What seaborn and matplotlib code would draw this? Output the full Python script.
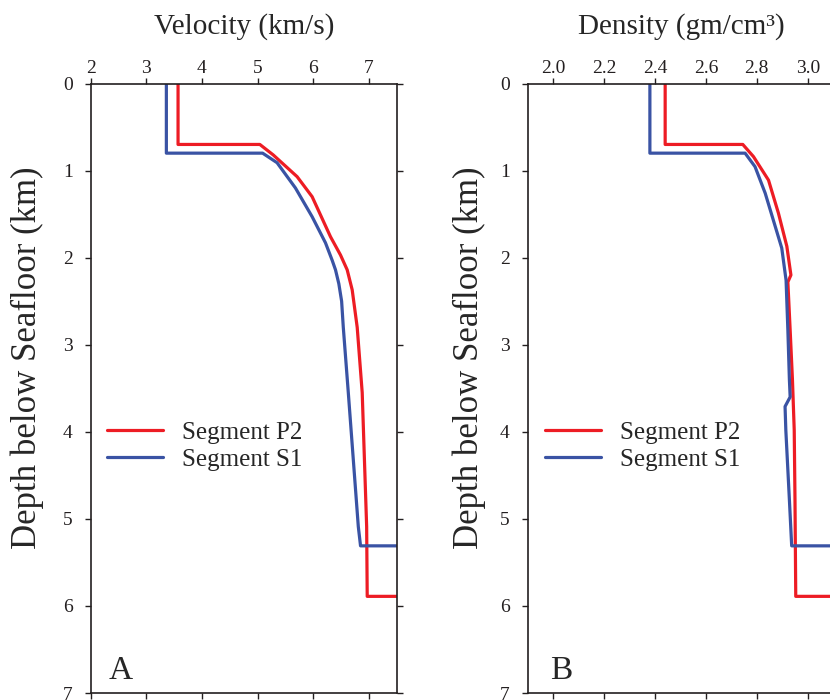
import numpy as np
import pandas as pd
import seaborn as sns
import matplotlib
matplotlib.use("Agg")
import matplotlib.pyplot as plt

# depth (km) / value pairs, in drawing order
p2_vel_depth = [0.0, 0.70, 0.70, 0.82, 1.07, 1.30, 1.76, 1.97, 2.14, 2.37, 2.80, 3.55, 4.32, 5.09, 5.89, 5.89]
p2_vel = [3.57, 3.57, 5.04, 5.28, 5.71, 5.98, 6.31, 6.49, 6.61, 6.70, 6.79, 6.88, 6.92, 6.96, 6.97, 7.5]

s1_vel_depth = [0.0, 0.80, 0.80, 0.91, 1.20, 1.53, 1.83, 2.03, 2.14, 2.30, 2.50, 2.80, 3.55, 4.32, 5.09, 5.31, 5.31]
s1_vel = [3.36, 3.36, 5.09, 5.35, 5.68, 5.98, 6.22, 6.34, 6.40, 6.46, 6.51, 6.54, 6.63, 6.72, 6.81, 6.85, 7.5]

p2_den_depth = [0.0, 0.70, 0.70, 0.84, 1.11, 1.49, 1.87, 2.20, 2.28, 2.83, 3.40, 3.98, 4.78, 5.89, 5.89]
p2_den = [2.44, 2.44, 2.745, 2.787, 2.846, 2.885, 2.918, 2.934, 2.922, 2.931, 2.940, 2.947, 2.950, 2.953, 3.11]

s1_den_depth = [0.0, 0.80, 0.80, 0.955, 1.26, 1.57, 1.89, 2.26, 2.83, 3.40, 3.60, 3.71, 3.98, 4.78, 5.31, 5.31]
s1_den = [2.38, 2.38, 2.754, 2.793, 2.833, 2.865, 2.898, 2.915, 2.922, 2.928, 2.931, 2.911, 2.914, 2.928, 2.937, 3.11]

segments = ["Segment P2", "Segment S1"]
colors = {"Segment P2": "#ED1C24", "Segment S1": "#3A53A4"}

vel_ticks = [2, 3, 4, 5, 6, 7]
den_ticks = [2.0, 2.2, 2.4, 2.6, 2.8, 3.0]
depth_ticks = [0, 1, 2, 3, 4, 5, 6, 7]


def make_df(d1, v1, d2, v2):
    a = pd.DataFrame({"depth": d1, "value": v1, "segment": segments[0]})
    b = pd.DataFrame({"depth": d2, "value": v2, "segment": segments[1]})
    return pd.concat([a, b], ignore_index=True)


vel_df = make_df(p2_vel_depth, p2_vel, s1_vel_depth, s1_vel)
den_df = make_df(p2_den_depth, p2_den, s1_den_depth, s1_den)

sns.set_style("ticks")
plt.rcParams["font.family"] = ["Liberation Serif", "DejaVu Serif"]
plt.rcParams["axes.edgecolor"] = "#231F20"
plt.rcParams["xtick.color"] = "#231F20"
plt.rcParams["ytick.color"] = "#231F20"

fig = plt.figure(figsize=(8.3, 7), dpi=100)
ax1 = fig.add_axes([90.7 / 830, 7 / 700, 306 / 830, 609.5 / 700])
ax2 = fig.add_axes([527.7 / 830, 7 / 700, 307 / 830, 609.5 / 700])

panels = [
    (ax1, vel_df, (2, 7.5), vel_ticks, "Velocity (km/s)", "A", 0.06, 0.052, "{:g}", -0.153),
    (ax2, den_df, (1.9, 3.106), den_ticks, "Density (gm/cm³)", "B", 0.073, 0.056, "{:.1f}", -0.136),
]

for ax, df, xlim, xt, xlabel, letter, lx, legx, fmt, ylx in panels:
    sns.lineplot(data=df, x="value", y="depth", hue="segment", hue_order=segments,
                 palette=colors, sort=False, estimator=None, linewidth=2.3, ax=ax)
    ax.set_xlim(*xlim)
    ax.set_ylim(7, 0)
    ax.set_xticks(xt)
    ax.set_xticklabels([fmt.format(t) for t in xt])
    ax.set_yticks(depth_ticks)
    ax.xaxis.set_label_position("top")
    ax.tick_params(axis="x", top=True, bottom=True, labeltop=True, labelbottom=False,
                   direction="out", length=4, width=1, pad=0.5, labelsize=14)
    ax.tick_params(axis="y", left=True, right=True, direction="out", length=4,
                   width=1, pad=9, labelsize=14)
    for s in ax.spines.values():
        s.set_visible(True)
        s.set_linewidth(1.2)
    ax.set_xlabel(xlabel, fontsize=21, labelpad=19)
    ax.set_ylabel("Depth below Seafloor (km)", fontsize=25)
    ax.yaxis.set_label_coords(ylx, 0.55)
    ax.text(lx, 0.023, letter, transform=ax.transAxes, fontsize=24, va="baseline")
    ax.legend(loc="center left", bbox_to_anchor=(legx, 0.405), frameon=False,
              fontsize=18, handlelength=2.25, handletextpad=0.75, labelspacing=0.2,
              borderpad=0, borderaxespad=0)

fig.savefig("out.png", dpi=100)
